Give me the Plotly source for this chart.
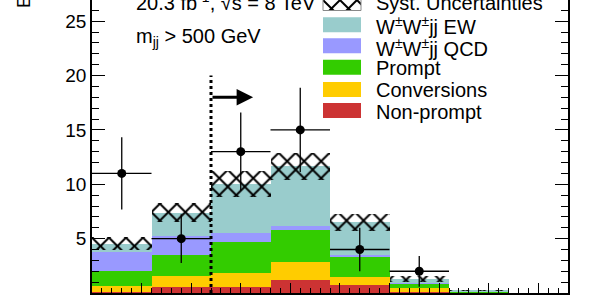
import numpy as np
import plotly.graph_objects as go

# ---- data ----
bin_edges = [0.0, 1.2, 2.4, 3.6, 4.8, 6.0, 7.2, 8.4, 9.6]
non_prompt = [0.05, 0.55, 0.55, 1.20, 0.74, 0.08, 0.01, 0.00]
conversions = [0.60, 1.00, 1.25, 1.68, 0.76, 0.35, 0.02, 0.00]
prompt = [1.40, 1.95, 2.90, 2.92, 1.90, 0.47, 0.14, 0.00]
wwjj_qcd = [1.75, 1.74, 0.85, 0.36, 0.05, 0.02, 0.00, 0.00]
wwjj_ew = [0.75, 2.16, 4.50, 5.50, 3.05, 0.40, 0.08, 0.00]
syst_unc = [0.58, 0.85, 1.18, 1.26, 0.77, 0.27, 0.04, 0.00]
data_counts = [11, 5, 13, 15, 4, 2, 0, 0]

cut_value = 2.4
cut_line_top = 20.0
arrow_y = 18.0
arrow_tip_x = 3.25

y_ticks = [5, 10, 15, 20, 25]

comp_names = ["Non-prompt", "Conversions", "Prompt", "W<sup>±</sup>W<sup>±</sup>jj QCD", "W<sup>±</sup>W<sup>±</sup>jj EW"]
comp_values = [non_prompt, conversions, prompt, wwjj_qcd, wwjj_ew]
comp_colors = ["#CC3333", "#FFCC00", "#33CC00", "#9999FF", "#99CCCC"]

legend_labels = ["Syst. Uncertainties", "W<sup>±</sup>W<sup>±</sup>jj EW", "W<sup>±</sup>W<sup>±</sup>jj QCD",
                 "Prompt", "Conversions", "Non-prompt"]
legend_colors = [None, "#99CCCC", "#9999FF", "#33CC00", "#FFCC00", "#CC3333"]

FONT = "Liberation Sans, Arial, Helvetica, sans-serif"

edges = np.array(bin_edges)
centers = (edges[:-1] + edges[1:]) / 2
widths = np.diff(edges)

HATCH = dict(shape="x", fgcolor="black", bgcolor="rgba(0,0,0,0)", size=12,
             solidity=0.3, fillmode="replace")

fig = go.Figure()

base = np.zeros(len(centers))
for name, vals, col in zip(comp_names, comp_values, comp_colors):
    v = np.array(vals)
    fig.add_trace(go.Bar(x=centers, y=v, base=base.copy(), width=widths,
                         marker=dict(color=col, line=dict(width=0)),
                         name=name, showlegend=False))
    base = base + v

total = base
unc = np.array(syst_unc)
fig.add_trace(go.Bar(x=centers, y=2 * unc, base=total - unc, width=widths,
                     marker=dict(color="rgba(0,0,0,0)", line=dict(width=0), pattern=HATCH),
                     showlegend=False))

d = np.array(data_counts, dtype=float)
mask = d > 0
fig.add_trace(go.Scatter(x=centers[mask], y=d[mask], mode="markers",
                         marker=dict(color="black", size=9),
                         error_y=dict(type="data", array=np.sqrt(d[mask]), color="black",
                                      thickness=1.3, width=0),
                         error_x=dict(type="data", array=widths[mask] / 2, color="black",
                                      thickness=1.3, width=0),
                         showlegend=False))

# legend hatch swatch axes
fig.add_trace(go.Bar(x=[0], y=[1], width=[1], xaxis="x2", yaxis="y2",
                     marker=dict(color="rgba(0,0,0,0)", line=dict(width=0), pattern=HATCH),
                     showlegend=False))

PLOT_TOP = 0.0
PLOT_BOT = 293.0
LEFT = 92.0
PW = 476.0


def py(p):
    return (PLOT_BOT - p) / (PLOT_BOT - PLOT_TOP)


def px(p):
    return (p - LEFT) / PW


shapes = []
annotations = []

# cut line
shapes.append(dict(type="line", xref="x", yref="y", x0=cut_value, x1=cut_value, y0=0, y1=cut_line_top,
                   line=dict(color="black", width=3, dash="dot"), layer="above"))
annotations.append(dict(x=arrow_tip_x, y=arrow_y, ax=cut_value, ay=arrow_y, xref="x", yref="y",
                        axref="x", ayref="y", showarrow=True, arrowhead=2, arrowsize=1.1,
                        arrowwidth=3, arrowcolor="black", standoff=0, startstandoff=0, text=""))

# legend
sw_centers = [3.0, 24.8, 45.8, 67.2, 89.5, 110.5]
tx_centers = [3.5, 26.0, 47.0, 68.0, 90.0, 112.0]
sx0, sx1, tx = px(323), px(361), px(374)
for lab, col, sc, tc in zip(legend_labels, legend_colors, sw_centers, tx_centers):
    if col is None:
        shapes.append(dict(type="rect", xref="paper", yref="paper", x0=sx0, x1=sx1,
                           y0=py(sc + 7.5), y1=py(sc - 7.5), line=dict(color="#888888", width=1),
                           fillcolor="rgba(0,0,0,0)"))
    else:
        shapes.append(dict(type="rect", xref="paper", yref="paper", x0=sx0, x1=sx1,
                           y0=py(sc + 7.5), y1=py(sc - 7.5), line=dict(width=0), fillcolor=col))
    annotations.append(dict(x=tx, y=py(tc), xref="paper", yref="paper", xanchor="left",
                            yanchor="middle", text=lab, showarrow=False,
                            font=dict(family=FONT, size=20, color="black")))

annotations.append(dict(x=px(134), y=py(1.5), xref="paper", yref="paper", xanchor="left",
                        yanchor="middle", text="20.3 fb<sup>-1</sup>, √s = 8 TeV", showarrow=False,
                        font=dict(family=FONT, size=20, color="black")))
annotations.append(dict(x=px(134), y=py(37), xref="paper", yref="paper", xanchor="left",
                        yanchor="middle", text="m<sub>jj</sub> > 500 GeV", showarrow=False,
                        font=dict(family=FONT, size=20, color="black")))
annotations.append(dict(x=px(24), y=py(10), xref="paper", yref="paper", xanchor="center",
                        yanchor="bottom", text="Events", textangle=-90, showarrow=False,
                        font=dict(family=FONT, size=19, color="black")))

fig.update_layout(
    width=600, height=300,
    margin=dict(l=92, r=32, t=0, b=7, pad=0),
    paper_bgcolor="white", plot_bgcolor="white",
    barmode="overlay", bargap=0,
    showlegend=False,
    font=dict(family=FONT, size=19, color="black"),
    xaxis=dict(range=[bin_edges[0], bin_edges[-1]], showline=True, linecolor="black", linewidth=1.5,
               ticks="inside", ticklen=10, tickwidth=1.3, tickcolor="black", dtick=1, tick0=0,
               minor=dict(ticks="inside", ticklen=5, dtick=0.2, tickcolor="black", tickwidth=1.1),
               mirror=False, showgrid=False, zeroline=False, tickfont=dict(size=19),
               automargin=False),
    yaxis=dict(range=[0, 26.95], showline=True, linecolor="black", linewidth=1.5,
               ticks="inside", ticklen=13, tickwidth=1.3, tickcolor="black",
               tickmode="array", tickvals=y_ticks,
               minor=dict(ticks="inside", ticklen=7, dtick=1, tickcolor="black", tickwidth=1.1),
               mirror="ticks", showgrid=False, zeroline=False, tickfont=dict(size=19),
               automargin=False),
    xaxis2=dict(domain=[sx0, sx1], range=[-0.5, 0.5], visible=False, anchor="y2"),
    yaxis2=dict(domain=[py(10.5), 1.0], range=[0, 1], visible=False, anchor="x2"),
    shapes=shapes,
    annotations=annotations,
)

fig.write_html("out.html")
